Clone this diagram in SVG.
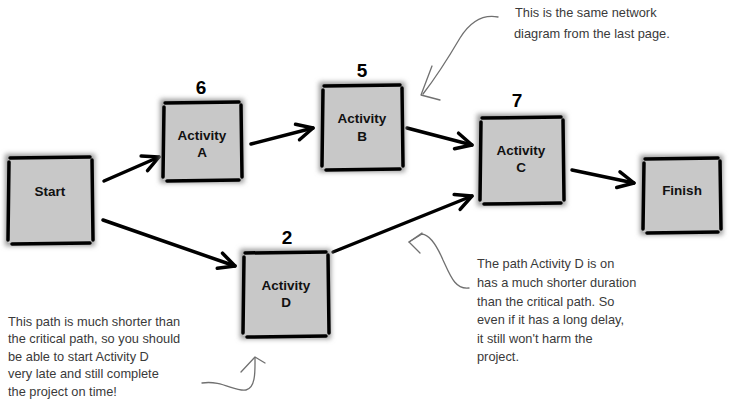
<svg xmlns="http://www.w3.org/2000/svg" width="734" height="408" viewBox="0 0 734 408">
<defs>
<filter id="blur" x="-20%" y="-20%" width="140%" height="140%"><feGaussianBlur stdDeviation="2.5"/></filter>
<marker id="ah" viewBox="0 0 22 22" refX="19" refY="11" markerWidth="22" markerHeight="22" markerUnits="userSpaceOnUse" orient="auto"><path d="M3,3 L19,11 L3,19" fill="none" stroke="#000" stroke-width="3.5" stroke-linecap="round" stroke-linejoin="round"/></marker>
</defs>
<style>
.sh{fill:#999;filter:url(#blur)}
.bx{fill:#c8c8c8}
.bd{fill:none;stroke:#000;stroke-width:3.5;stroke-linecap:round}
.lbl{font-family:"Liberation Sans",Arial,sans-serif;font-weight:bold;font-size:13.5px;text-anchor:middle;fill:#111}
.num{font-family:"Liberation Sans",Arial,sans-serif;font-weight:bold;font-size:19px;text-anchor:middle;fill:#000}
.note{font-family:"Liberation Sans",Arial,sans-serif;font-size:12.8px;fill:#3a3a3a}
.con{fill:none;stroke:#000;stroke-width:3.5;stroke-linecap:round;marker-end:url(#ah)}
.cur{fill:none;stroke:#707070;stroke-width:1.3;stroke-linecap:round;stroke-linejoin:round}
</style>
<rect width="734" height="408" fill="#fff"/>

<g id="connectors">
<line class="con" x1="104" y1="181" x2="159" y2="157"/>
<line class="con" x1="251" y1="144" x2="313" y2="128"/>
<line class="con" x1="407" y1="128" x2="472" y2="145"/>
<line class="con" x1="572" y1="170" x2="634" y2="183"/>
<line class="con" x1="103" y1="220" x2="235" y2="266"/>
<line class="con" x1="333" y1="252" x2="472" y2="196"/>
</g>

<g id="start">
<rect class="sh" x="5" y="154" width="90" height="92"/>
<rect class="bx" x="8" y="157" width="84" height="86"/>
<path class="bd" d="M10,158 L90,157 M92,160 L93,240 M90,243 L12,244 M8,240 L9,162"/>
<text class="lbl" x="50" y="196">Start</text>
</g>

<g id="activityA">
<text class="num" x="201" y="94">6</text>
<rect class="sh" x="160" y="99" width="84" height="84"/>
<rect class="bx" x="163" y="102" width="78" height="78"/>
<path class="bd" d="M165,103 L239,102 M241,105 L242,177 M239,180 L167,181 M163,177 L164,107"/>
<text class="lbl" x="202" y="140">Activity</text>
<text class="lbl" x="202" y="157">A</text>
</g>

<g id="activityB">
<text class="num" x="362" y="77">5</text>
<rect class="sh" x="319" y="82" width="86" height="90"/>
<rect class="bx" x="322" y="85" width="80" height="84"/>
<path class="bd" d="M324,86 L400,85 M402,88 L403,166 M400,169 L326,170 M322,166 L323,90"/>
<text class="lbl" x="362" y="123">Activity</text>
<text class="lbl" x="362" y="141">B</text>
</g>

<g id="activityC">
<text class="num" x="517" y="107">7</text>
<rect class="sh" x="477" y="114" width="89" height="92"/>
<rect class="bx" x="480" y="117" width="83" height="86"/>
<path class="bd" d="M482,118 L561,117 M563,120 L564,200 M561,203 L484,204 M480,200 L481,122"/>
<text class="lbl" x="521" y="155">Activity</text>
<text class="lbl" x="521" y="172">C</text>
</g>

<g id="finish">
<rect class="sh" x="640" y="155" width="83" height="80"/>
<rect class="bx" x="643" y="158" width="77" height="74"/>
<path class="bd" d="M645,159 L718,158 M720,161 L721,229 M718,232 L647,233 M643,229 L644,163"/>
<text class="lbl" x="682" y="195">Finish</text>
</g>

<g id="activityD">
<text class="num" x="287" y="244">2</text>
<rect class="sh" x="240" y="249" width="91" height="90"/>
<rect class="bx" x="243" y="252" width="85" height="84"/>
<path class="bd" d="M245,253 L326,252 M328,255 L329,333 M326,336 L247,337 M243,333 L244,257"/>
<text class="lbl" x="286" y="290">Activity</text>
<text class="lbl" x="286" y="307">D</text>
</g>

<g id="note-top">
<text class="note"><tspan x="515" y="17">This is the same network</tspan><tspan x="514" y="38">diagram from the last page.</tspan></text>
<path class="cur" d="M498,17 C482,14 470,22 460,38 C450,55 440,72 423,94"/>
<path class="cur" d="M432,66 L421,95 L440,100"/>
</g>

<g id="note-left">
<text class="note"><tspan x="8" y="326">This path is much shorter than</tspan><tspan x="8" y="343">the critical path, so you should</tspan><tspan x="8" y="361">be able to start Activity D</tspan><tspan x="8" y="378">very late and still complete</tspan><tspan x="8" y="396">the project on time!</tspan></text>
<path class="cur" d="M202,383 C222,380 235,392 246,390 C256,388 255,370 255,358"/>
<path class="cur" d="M241,372 L255,357 L265,363"/>
</g>

<g id="note-right">
<text class="note"><tspan x="477" y="268">The path Activity D is on</tspan><tspan x="477" y="287">has a much shorter duration</tspan><tspan x="477" y="306">than the critical path. So</tspan><tspan x="477" y="324">even if it has a long delay,</tspan><tspan x="477" y="343">it still won't harm the</tspan><tspan x="477" y="361">project.</tspan></text>
<path class="cur" d="M469,288 C455,290 450,275 443,260 C437,246 430,235 422,234 L409,242"/>
<path class="cur" d="M422,233 L409,242 L420,253"/>
</g>
</svg>
